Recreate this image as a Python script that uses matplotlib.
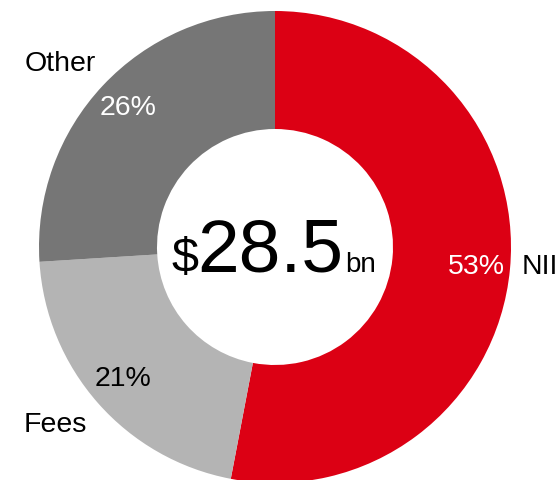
import matplotlib
matplotlib.use("Agg")
import matplotlib.pyplot as plt

plt.rcParams['font.family'] = ['Liberation Sans', 'DejaVu Sans']

segments = ['NII', 'Fees', 'Other']
shares = [53, 21, 26]
colors = ['#DC0014', '#B4B4B4', '#767676']
total_label = '28.5'

fig = plt.figure(figsize=(5.59, 4.80), dpi=100)
ax = fig.add_axes([0, 0, 1, 1])

# donut, clockwise from 12 o'clock
ax.pie(shares, colors=colors, startangle=90, counterclock=False,
       radius=236, wedgeprops=dict(width=118, linewidth=0))
ax.set_xlim(-275, 284)
ax.set_ylim(-233, 247)
ax.set_aspect('equal')
ax.axis('off')

fs = 20.5
# segment names outside the ring
ax.text(-215, 183, segments[2], fontsize=fs, ha='center', va='center')
ax.text(247, -20, segments[0], fontsize=fs, ha='left', va='center')
ax.text(-220, -178, segments[1], fontsize=fs, ha='center', va='center')

# percentages on the ring
ax.text(-147, 139, f'{shares[2]}%', fontsize=fs, ha='center', va='center', color='white')
ax.text(201, -20, f'{shares[0]}%', fontsize=fs, ha='center', va='center', color='white')
ax.text(-152, -132, f'{shares[1]}%', fontsize=fs, ha='center', va='center', color='black')

# total in the hole
ax.text(-4.5, -25, total_label, fontsize=54, ha='center', va='baseline')
ax.text(-76, -25, '$', fontsize=35, ha='right', va='baseline')
ax.text(70, -25, 'bn', fontsize=20, ha='left', va='baseline')

fig.savefig('out.png', dpi=100)
